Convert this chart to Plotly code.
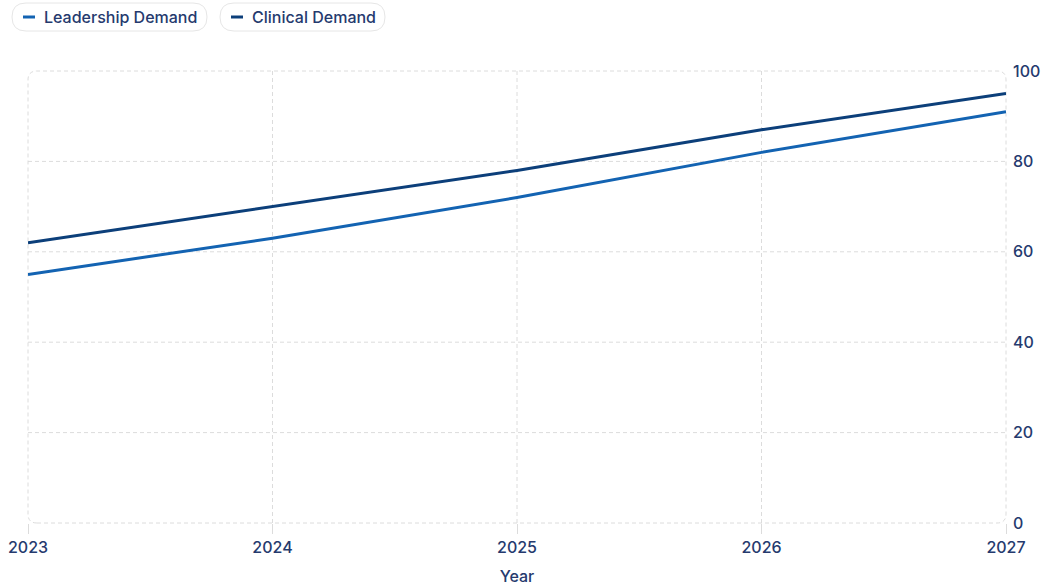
import plotly.graph_objects as go

# Data
years = [2023, 2024, 2025, 2026, 2027]
leadership_demand = [55, 63, 72, 82, 91]
clinical_demand = [62, 70, 78, 87, 95]
y_ticks = [0, 20, 40, 60, 80, 100]

series_names = ["Leadership Demand", "Clinical Demand"]
series_values = [leadership_demand, clinical_demand]
series_colors = ["#1363b2", "#0c3f7a"]

text_color = "#253a6e"
grid_color = "#dcdcdc"
dash = "4px,3px"

fig = go.Figure()
for name, vals, color in zip(series_names, series_values, series_colors):
    fig.add_trace(go.Scatter(
        x=years, y=vals, name=name, mode="lines",
        line=dict(color=color, width=3),
        showlegend=False,
    ))

shapes = []
# interior grid lines (edges are covered by the rounded border)
for yr in years[1:-1]:
    shapes.append(dict(type="line", xref="x", yref="paper", x0=yr, x1=yr, y0=0, y1=1,
                       line=dict(color=grid_color, width=1, dash=dash), layer="below"))
for v in y_ticks[1:-1]:
    shapes.append(dict(type="line", xref="paper", yref="y", x0=0, x1=1, y0=v, y1=v,
                       line=dict(color=grid_color, width=1, dash=dash), layer="below"))

# rounded border around the 978 x 452 px plot area
W, H, r = 978, 452, 9
border = (f"M {r},0 L {W - r},0 Q {W},0 {W},{r} L {W},{H - r} Q {W},{H} {W - r},{H} "
          f"L {r},{H} Q 0,{H} 0,{H - r} L 0,{r} Q 0,0 {r},0 Z")
shapes.append(dict(
    type="path", path=border, xref="paper", yref="paper",
    xsizemode="pixel", ysizemode="pixel", xanchor=0, yanchor=0,
    line=dict(color=grid_color, width=1, dash=dash), layer="below",
))

# custom pill legend
annotations = []
pill_x = [(-16, 179), (192, 357)]
for (x0, x1), name, color in zip(pill_x, series_names, series_colors):
    y0, y1 = 40, 68
    pr = 14
    pill = (f"M {x0 + pr},{y0} L {x1 - pr},{y0} Q {x1},{y0} {x1},{y0 + pr} "
            f"Q {x1},{y1} {x1 - pr},{y1} L {x0 + pr},{y1} Q {x0},{y1} {x0},{y0 + pr} "
            f"Q {x0},{y0} {x0 + pr},{y0} Z")
    shapes.append(dict(
        type="path", path=pill, xref="paper", yref="paper",
        xsizemode="pixel", ysizemode="pixel", xanchor=0, yanchor=1,
        line=dict(color="#e6e6e6", width=1), fillcolor="white",
    ))
    shapes.append(dict(
        type="line", xref="paper", yref="paper",
        xsizemode="pixel", ysizemode="pixel", xanchor=0, yanchor=1,
        x0=x0 + 11, x1=x0 + 23, y0=54, y1=54,
        line=dict(color=color, width=3),
    ))
    annotations.append(dict(
        text=name, xref="paper", yref="paper", x=0, y=1,
        xanchor="left", yanchor="middle", xshift=x0 + 30, yshift=54,
        showarrow=False, font=dict(size=16, color=text_color, weight=500),
    ))

fig.update_layout(
    width=1046, height=586,
    margin=dict(l=28, r=40, t=71, b=63),
    paper_bgcolor="white", plot_bgcolor="white",
    font=dict(family="Inter", size=16, color=text_color, weight=500),
    shapes=shapes, annotations=annotations,
    xaxis=dict(
        range=[2023, 2027], tickvals=years, ticktext=[str(y) for y in years],
        showgrid=False, zeroline=False, showline=False, automargin=False,
        ticks="outside", ticklen=10, tickcolor=grid_color, ticklabeloverflow="allow",
        title=dict(text="Year", font=dict(size=16, weight=500), standoff=14),
    ),
    yaxis=dict(
        range=[0, 100], tickvals=y_ticks, side="right",
        showgrid=False, zeroline=False, showline=False, automargin=False,
        ticks="", ticklabelstandoff=6, ticklabeloverflow="allow",
    ),
)

# drop the default 8px page margin so the figure fills the window
fig.write_html("out.html", config={"displayModeBar": False},
               post_script="document.body.style.margin='0';")
